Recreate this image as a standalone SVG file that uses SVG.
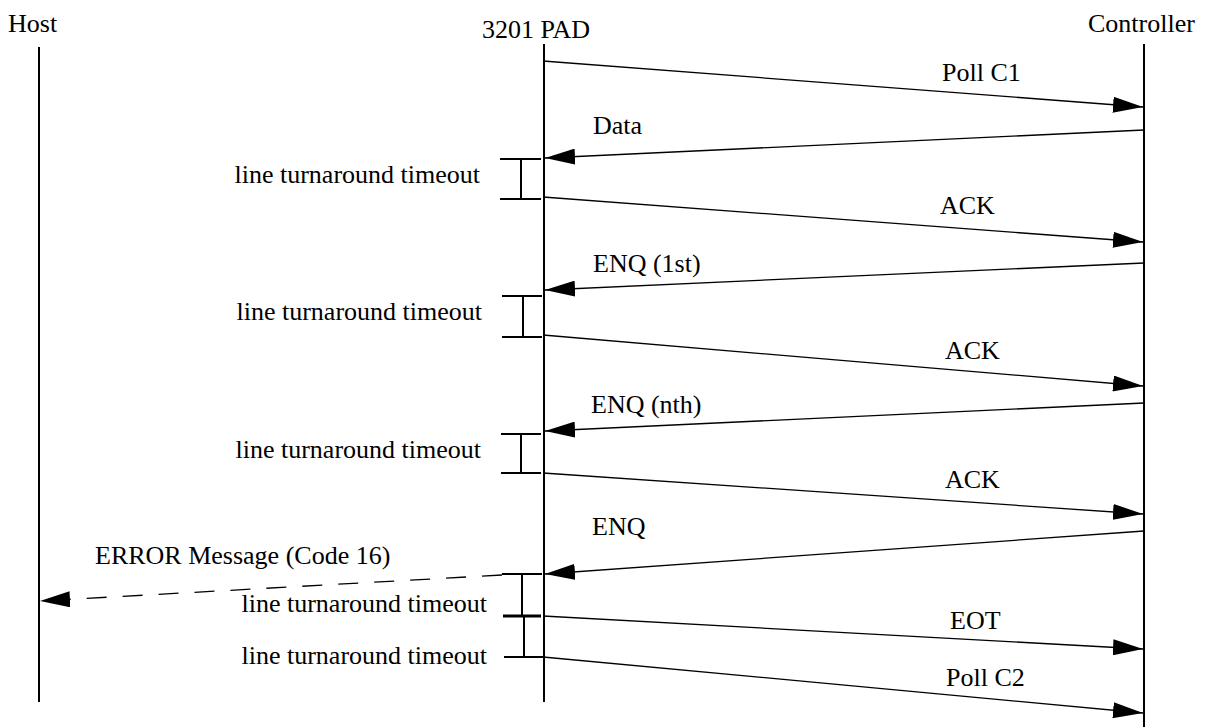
<svg xmlns="http://www.w3.org/2000/svg" width="1207" height="727" viewBox="0 0 1207 727">
  <style>
    text { font-family: "Liberation Serif", "Times New Roman", serif; font-size: 26px; fill: #000; }
    .life { stroke: #000; stroke-width: 2; fill: none; }
    .msg { stroke: #000; stroke-width: 1.3; fill: none; marker-end: url(#head); }
    .dash { stroke-dasharray: 20 16; }
    .tick { stroke: #000; stroke-width: 2; fill: none; }
    .tick-bold { stroke-width: 3; }
    .tl { text-anchor: end; }
  </style>
  <defs>
    <!-- filled arrowhead, tip sits on the line end -->
    <marker id="head" markerUnits="userSpaceOnUse" markerWidth="30" markerHeight="16" refX="30" refY="8" orient="auto">
      <path d="M0,0 L30,8 L0,16 z" fill="#000"/>
    </marker>
  </defs>

  <rect width="1207" height="727" fill="#fff"/>

  <!-- lifelines -->
  <g id="host">
    <text x="8" y="32">Host</text>
    <line class="life" x1="39" y1="47" x2="39" y2="702"/>
  </g>
  <g id="pad">
    <text x="482" y="38">3201 PAD</text>
    <line class="life" x1="544" y1="44" x2="544" y2="702"/>
  </g>
  <g id="controller">
    <text x="1088" y="32">Controller</text>
    <line class="life" x1="1144" y1="44" x2="1144" y2="727"/>
  </g>

  <!-- line turnaround timeout brackets -->
  <g id="timeouts">
    <path class="tick" d="M500,159 H541 M500,199 H541 M521,159 V199"/>
    <text class="tl" x="480" y="183">line turnaround timeout</text>

    <path class="tick" d="M502,296 H542 M502,337 H542 M523,296 V337"/>
    <text class="tl" x="482" y="320">line turnaround timeout</text>

    <path class="tick" d="M501,434 H541 M501,473 H541 M521,434 V473"/>
    <text class="tl" x="481" y="458">line turnaround timeout</text>

    <path class="tick" d="M502,574 H542 M522,574 V616 M504,657 H543 M524,616 V657"/>
    <path class="tick tick-bold" d="M503,616 H541"/>
    <text class="tl" x="487" y="612">line turnaround timeout</text>
    <text class="tl" x="487" y="664">line turnaround timeout</text>
  </g>

  <!-- messages -->
  <g id="connectors">
    <path class="msg" d="M543,61 L1143,107"/>
    <path class="msg" d="M1144,130 L545,158"/>
    <path class="msg" d="M543,197 L1143,242"/>
    <path class="msg" d="M1144,263 L545,290"/>
    <path class="msg" d="M543,335 L1143,386"/>
    <path class="msg" d="M1144,403 L545,431"/>
    <path class="msg" d="M543,473 L1143,514"/>
    <path class="msg" d="M1144,531 L545,574"/>
    <path class="msg dash" d="M502,575 L40,601"/>
    <path class="msg" d="M543,616 L1143,649"/>
    <path class="msg" d="M543,657 L1143,713"/>
  </g>

  <!-- message labels -->
  <g id="labels">
    <text x="942" y="81">Poll C1</text>
    <text x="593" y="134">Data</text>
    <text x="940" y="214">ACK</text>
    <text x="593" y="272">ENQ (1st)</text>
    <text x="945" y="359">ACK</text>
    <text x="591" y="413">ENQ (nth)</text>
    <text x="945" y="488">ACK</text>
    <text x="592" y="535">ENQ</text>
    <text x="95" y="564">ERROR Message (Code 16)</text>
    <text x="950" y="629">EOT</text>
    <text x="946" y="686">Poll C2</text>
  </g>
</svg>
